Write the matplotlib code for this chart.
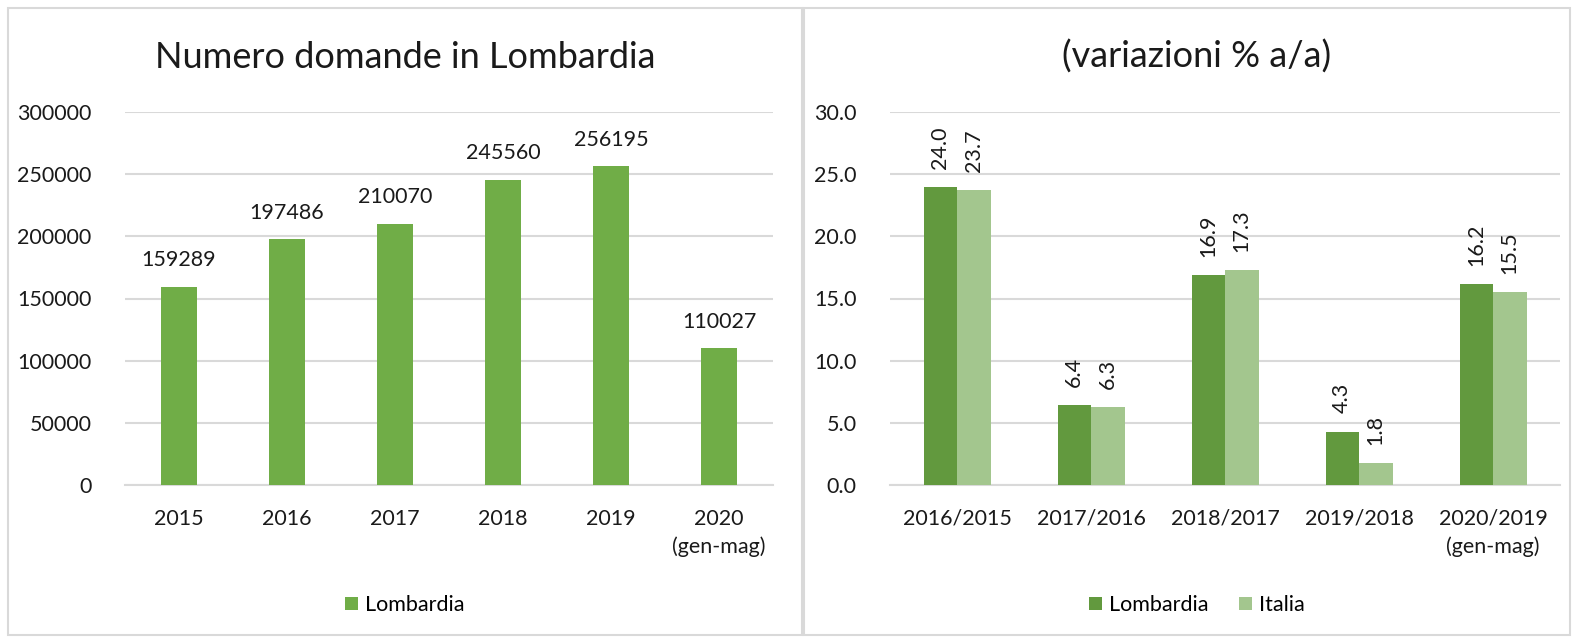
import matplotlib
matplotlib.use("Agg")
import matplotlib.pyplot as plt
from matplotlib.patches import Rectangle
import numpy as np

plt.rcParams['font.family'] = ['Lato', 'DejaVu Sans']

# Data
years = ["2015", "2016", "2017", "2018", "2019", "2020\n(gen-mag)"]
domande = [159289, 197486, 210070, 245560, 256195, 110027]

periods = ["2016/2015", "2017/2016", "2018/2017", "2019/2018", "2020/2019\n(gen-mag)"]
var_lombardia = [24.0, 6.4, 16.9, 4.3, 16.2]
var_italia = [23.7, 6.3, 17.3, 1.8, 15.5]

W, H = 1578, 643
fig = plt.figure(figsize=(W / 100, H / 100), dpi=100)

def fx(px):
    return px / W

def fy(py):
    return 1 - py / H

# panel borders
for (x0, y0, x1, y1) in [(8, 8, 802, 635), (804, 8, 1570, 635)]:
    fig.add_artist(Rectangle((fx(x0), fy(y1)), fx(x1 - x0), (y1 - y0) / H,
                             transform=fig.transFigure, fill=False,
                             edgecolor='#D9D9D9', linewidth=1.5))

grid_c = '#D9D9D9'
text_c = '#1a1a1a'
tick_fs = 15.5
title_fs = 26

def style_axis(ax):
    ax.grid(axis='y', color=grid_c, linewidth=1.5, zorder=0)
    for s in ['top', 'right', 'left']:
        ax.spines[s].set_visible(False)
    ax.spines['bottom'].set_color(grid_c)
    ax.spines['bottom'].set_linewidth(1.5)
    ax.tick_params(axis='both', length=0, labelsize=tick_fs, colors=text_c)
    ax.tick_params(axis='y', pad=24)
    ax.tick_params(axis='x', pad=17)

# Left chart
ax1 = fig.add_axes([fx(125), fy(485), fx(773 - 125), (485 - 112) / H])
x = np.arange(len(years))
ax1.bar(x, domande, width=0.33, color='#70AD47', label='Lombardia', zorder=3)
ax1.set_ylim(0, 300000)
ax1.set_xlim(-0.5, len(years) - 0.5)
ax1.set_yticks(np.arange(0, 300001, 50000))
ax1.set_yticklabels([str(v) for v in range(0, 300001, 50000)])
ax1.set_xticks(x)
ax1.set_xticklabels(years, linespacing=1.45)
for i, v in enumerate(domande):
    ax1.annotate(str(v), (i, v), xytext=(0, 12), textcoords='offset points',
                 ha='center', va='bottom', fontsize=tick_fs, color=text_c)
style_axis(ax1)
fig.text(fx(405), fy(57), "Numero domande in Lombardia", ha='center', va='center',
         fontsize=title_fs, color=text_c)
ax1.legend(loc='center', bbox_to_anchor=(fx(405), fy(605)), bbox_transform=fig.transFigure,
           frameon=False, fontsize=tick_fs, handlelength=0.6, handleheight=0.6,
           handletextpad=0.35)

# Right chart
ax2 = fig.add_axes([fx(890), fy(485), fx(1560 - 890), (485 - 112) / H])
xp = np.arange(len(periods))
bw = 0.25
ax2.bar(xp - bw / 2, var_lombardia, width=bw, color='#62993E', label='Lombardia', zorder=3)
ax2.bar(xp + bw / 2, var_italia, width=bw, color='#A3C68E', label='Italia', zorder=3)
ax2.set_ylim(0, 30)
ax2.set_xlim(-0.5, len(periods) - 0.5)
ax2.set_yticks(np.arange(0, 30.1, 5))
ax2.set_yticklabels([f"{v:.1f}" for v in np.arange(0, 30.1, 5)])
ax2.set_xticks(xp)
ax2.set_xticklabels(periods, linespacing=1.45)
for i in range(len(periods)):
    for off, vals in [(-bw / 2, var_lombardia), (bw / 2, var_italia)]:
        ax2.annotate(f"{vals[i]:.1f}", (i + off, vals[i]), xytext=(0, 13),
                     textcoords='offset points', ha='center', va='bottom',
                     rotation=90, fontsize=tick_fs, color=text_c)
style_axis(ax2)
fig.text(fx(1197), fy(57), "(variazioni % a/a)", ha='center', va='center',
         fontsize=title_fs, color=text_c)
ax2.legend(loc='center', bbox_to_anchor=(fx(1197), fy(605)), bbox_transform=fig.transFigure,
           frameon=False, fontsize=tick_fs, ncol=2, handlelength=0.6, handleheight=0.6,
           handletextpad=0.35, columnspacing=1.4)

fig.savefig("out.png", dpi=100, facecolor='white')
